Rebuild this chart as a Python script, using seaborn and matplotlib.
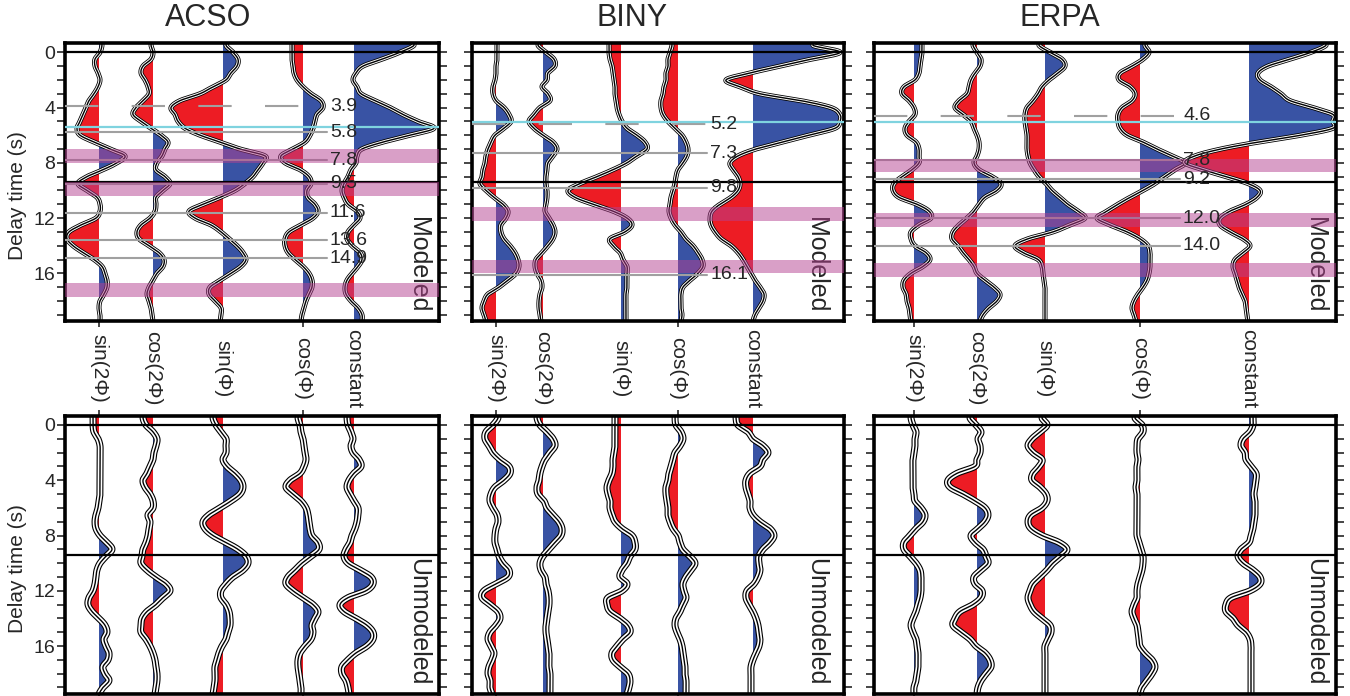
import numpy as np
import matplotlib
matplotlib.use("Agg")
import matplotlib.pyplot as plt
import matplotlib.patheffects as pe
import seaborn as sns

# sample times of the traces (s)
TIMES = np.arange(-0.5, 19.75, 0.5)

STATIONS = ["ACSO", "BINY", "ERPA"]
COMPONENTS = ["sin(2\u03a6)", "cos(2\u03a6)", "sin(\u03a6)", "cos(\u03a6)", "constant"]

# trace amplitudes (plot px), modeled row
acso_mod_s2 = [3, 1, -4, -4, -1, 1, -1, -5, -10, -13, -16, -19, -22, -19, -5, 11, 26, 18, 4, -12, -21, -12, -2, 1, 1, -3, -18, -30, -32, -26, -16, -5, 3, 6, 8, 8, 5, 1, 0, 1, 1]
acso_mod_c2 = [-2, 0, -2, -10, -12, -8, -5, -4, -10, -17, -20, -12, -2, 8, 15, 12, 9, 4, 3, 12, 17, 10, 3, 3, 2, -3, -12, -16, -14, -4, 6, 11, 10, 4, 0, -4, -6, -4, -2, -1, 0]
acso_mod_s1 = [3, 10, 15, 14, 8, 3, -10, -23, -43, -52, -48, -45, -38, -23, -3, 17, 42, 40, 35, 30, 22, 12, -3, -20, -34, -28, -12, -2, 6, 14, 20, 23, 18, 8, -3, -13, -14, -8, -2, -2, -3]
acso_mod_c1 = [-11, -11, -11, -10, -9, -6, 0, 8, 18, 20, 14, 12, 10, 7, 2, -10, -22, -18, -3, 6, 8, 4, 5, 12, 15, 10, -2, -14, -18, -18, -15, -8, 0, 6, 9, 9, 6, 3, 1, -1, -2]
acso_mod_k = [60, 46, 28, 9, 2, -1, 3, 7, 21, 36, 49, 64, 80, 56, 29, 8, 3, 2, -3, -6, -10, -12, -10, -6, 3, 6, 0, -6, -7, -2, 6, 8, 4, -2, -7, -9, -8, -3, 4, 8, 8]

biny_mod_s2 = [1, 1, 1, 0, 0, -1, -3, -3, 0, 8, 13, 15, 8, -1, -5, -8, -10, -11, -13, -14, -16, -10, -2, 7, 12, 10, 5, 5, 8, 14, 19, 22, 23, 20, 12, 3, -8, -12, -14, -12, -10]
biny_mod_c2 = [-5, 3, 11, 12, 5, 4, -1, 5, 7, -3, -9, -14, -9, 0, 10, 14, 10, 5, 4, 3, 3, 4, 4, 3, 2, 6, 10, 12, 10, 5, -1, -7, -8, -6, -2, -1, -3, -4, -4, -3, -2]
biny_mod_s1 = [-12, -12, -11, -9, -8, -7, -6, -6, -5, -4, -2, 1, 6, 16, 24, 26, 16, 6, -8, -24, -41, -53, -46, -28, -8, 6, 11, 4, -11, -8, -1, 2, 6, 6, 6, 6, 5, 5, 5, 5, 5]
biny_mod_c1 = [-6, -8, -10, -10, -12, -12, -14, -15, -17, -17, -15, -10, -3, 4, 8, 10, 9, 5, 0, -2, -3, -5, -7, -8, -9, -7, -3, 3, 8, 15, 20, 24, 25, 20, 12, 5, 3, 3, 3, 4, 3]
biny_mod_k = [60, 87, 58, 27, -3, -27, -13, 7, 48, 78, 87, 87, 82, 56, 29, 3, -15, -23, -20, -15, -13, -15, -22, -33, -41, -43, -42, -38, -32, -22, -15, -10, -6, -2, 2, 7, 11, 10, 6, 2, 0]

erpa_mod_s2 = [8, 8, 7, 6, 5, 1, -10, -12, -5, 0, 1, -5, -9, -7, 2, 5, 5, 5, -2, -12, -20, -21, -15, 3, 15, 17, 5, -3, -3, 1, 12, 16, 9, -3, -10, -11, -8, -7, -5, -4, -3]
erpa_mod_c2 = [-4, 0, 4, 3, -2, -6, -8, -10, -18, -22, -14, -6, -3, 0, 2, 2, 0, -3, 2, 15, 24, 20, 8, 2, -3, -10, -18, -24, -25, -19, -14, -8, -3, 0, 8, 17, 23, 20, 12, 6, 3]
erpa_mod_s1 = [-6, 5, 17, 20, 13, 4, -3, -7, -12, -18, -20, -20, -19, -18, -18, -18, -17, -15, -11, -6, 1, 7, 15, 23, 33, 40, 25, 8, -17, -30, -22, -7, -3, -2, -1, 0, 0, 0, 0, 0, 0]
erpa_mod_c1 = [5, 9, 3, -8, -20, -21, -10, -5, -8, -18, -22, -22, -20, -13, 3, 17, 32, 45, 35, 25, 15, 3, -10, -22, -33, -43, -30, -13, 0, 8, 10, 10, 10, 9, 7, 3, -2, -6, -8, -6, -4]
erpa_mod_k = [77, 62, 41, 19, 9, 11, 22, 32, 41, 64, 84, 84, 84, 52, 9, -28, -54, -64, -46, -23, -1, 11, 8, -3, -19, -29, -29, -19, -6, 1, -6, -14, -16, -14, -12, -10, -7, -4, -3, -2, -1]

# trace amplitudes (plot px), unmodeled row
acso_unm_s2 = [-6, -6, -5, -1, 1, 1, 1, 1, 1, 1, 1, 1, 0, -1, -3, -4, -3, 1, 8, 13, 7, 1, -2, -3, -4, -6, -10, -11, -7, 0, 6, 8, 5, 7, 10, 9, 4, 6, 10, 4, 0]
acso_unm_c2 = [-10, -7, 0, 4, 3, 1, 0, -3, -6, -10, -8, -3, 0, 0, -5, -3, -4, -5, -7, -10, -11, -12, -6, 3, 13, 17, 10, 3, -6, -11, -12, -12, -7, -3, 0, 2, 3, 4, 4, 3, 2]
acso_unm_s1 = [-10, -7, -2, 3, 3, 3, 0, 4, 12, 18, 20, 17, 8, -3, -14, -20, -18, -10, 3, 15, 23, 25, 20, 10, 3, -2, -2, 3, 6, 7, 7, 5, 3, -1, -4, -6, -8, -8, -8, -9, -10]
acso_unm_c1 = [-5, -3, -2, 0, 1, 2, 3, 1, -3, -13, -17, -10, -2, 3, 5, 6, 7, 9, 15, 16, 8, -1, -8, -15, -17, -10, 0, 10, 15, 12, 9, 10, 8, 2, -3, -5, -5, -4, -3, -2, -2]
acso_unm_k = [-7, -6, -3, -1, -3, -1, 5, 7, 0, -5, -7, -4, 0, 4, 4, 3, 1, -2, -4, -8, -10, -6, 6, 17, 19, 12, -6, -14, -10, 2, 13, 19, 19, 13, 2, -6, -12, -12, -8, -6, -5]

biny_unm_s2 = [2, -3, -10, -11, -7, -3, 4, 13, 14, 8, -1, -5, -6, -3, 1, 2, 0, -1, -1, 1, 3, 7, 13, 12, 0, -12, -14, -6, 2, 4, 0, -6, -8, -5, -2, -4, -7, -8, -6, -6, -4]
biny_unm_c2 = [-6, -3, 4, 10, 12, 7, 2, -1, -3, -4, -6, -5, 1, 4, 10, 16, 19, 18, 12, 6, 0, -3, -2, 2, 3, 5, 6, 6, 5, 4, 3, 3, 4, 5, 6, 6, 6, 7, 7, 7, 7]
biny_unm_s1 = [-6, -6, -6, -6, -6, -7, -8, -8, -9, -12, -14, -13, -11, -11, -9, -6, 1, 11, 14, 14, 9, 6, 1, -1, 6, 1, -13, -14, -11, -1, 7, 9, 2, -4, -9, -8, -1, 7, 9, 8, 6]
biny_unm_c1 = [-3, -2, 3, 5, 2, -3, -5, -7, -9, -10, -12, -12, -11, -10, -10, -8, -5, 0, 2, 5, 12, 17, 13, 8, 5, 6, 8, 5, 2, -2, -3, -1, 2, 4, 5, 6, 7, 7, 8, 8, 8]
biny_unm_k = [-17, -15, -5, 0, 10, 15, 10, 7, -3, -7, -7, -5, -3, -3, 0, 7, 17, 21, 17, 10, 6, 6, 7, 5, 1, -6, -7, -4, 0, 3, 5, 6, 7, 6, 3, 0, -2, -2, -2, -2, -2]

erpa_unm_s2 = [-3, -1, 2, 1, 1, 0, -1, -1, -1, -1, -1, 0, 1, 7, 11, 9, 2, -4, -10, -10, -4, 2, 6, 7, 7, 7, 6, 4, 2, -1, -3, -1, 2, 3, 4, 4, 4, 3, 2, 0, 0]
erpa_unm_c2 = [-7, -1, 4, 1, 3, 3, 0, -2, -20, -29, -27, -14, -2, 8, 11, 8, 1, -6, -2, 6, 9, 11, 4, -3, -2, 5, 4, -4, -17, -22, -24, -16, -7, -1, 8, 13, 14, 9, 4, 1, 0]
erpa_unm_s1 = [-3, 2, -5, -13, -17, -12, -3, -6, -12, -13, -5, 1, 2, -3, -14, -17, -14, -3, 14, 22, 16, 8, 2, -5, -12, -15, -17, -15, -11, -3, 5, 6, 3, 0, 0, 0, 0, 0, 0, 0, 0]
erpa_unm_c1 = [-5, 2, 3, -2, -3, -3, -2, -3, -3, -3, -4, -3, -3, -3, -3, -3, -3, -3, -1, 1, 3, 3, 2, 0, -2, -3, -3, -6, -8, -6, -3, -2, -1, 0, 5, 12, 15, 12, 7, 2, 0]
erpa_unm_k = [4, 4, 1, -6, -8, -4, -3, 2, 7, 7, 6, 5, 6, 6, 6, 5, 4, 2, 0, -8, -11, -6, 4, 11, 11, 1, -18, -23, -23, -16, -11, -3, 1, 2, 2, 2, 2, 2, 2, 2, 2]

# picked delay times (s); first one is drawn dashed
acso_picks = [3.9, 5.8, 7.8, 9.5, 11.6, 13.6, 14.9]
biny_picks = [5.2, 7.3, 9.8, 16.1]
erpa_picks = [4.6, 7.8, 9.2, 12.0, 14.0]
# predicted phases (centres of the shaded bands, s)
acso_bands = [7.5, 9.9, 17.2]
biny_bands = [11.7, 15.5]
erpa_bands = [8.2, 12.15, 15.75]
# cyan reference line and the black cut line (s)
cyan_times = [5.4, 5.05, 5.05]
cut_time = 9.4

TRACES = {
    ("ACSO", 0): [acso_mod_s2, acso_mod_c2, acso_mod_s1, acso_mod_c1, acso_mod_k],
    ("BINY", 0): [biny_mod_s2, biny_mod_c2, biny_mod_s1, biny_mod_c1, biny_mod_k],
    ("ERPA", 0): [erpa_mod_s2, erpa_mod_c2, erpa_mod_s1, erpa_mod_c1, erpa_mod_k],
    ("ACSO", 1): [acso_unm_s2, acso_unm_c2, acso_unm_s1, acso_unm_c1, acso_unm_k],
    ("BINY", 1): [biny_unm_s2, biny_unm_c2, biny_unm_s1, biny_unm_c1, biny_unm_k],
    ("ERPA", 1): [erpa_unm_s2, erpa_unm_c2, erpa_unm_s1, erpa_unm_c1, erpa_unm_k],
}
PICKS = [acso_picks, biny_picks, erpa_picks]
BANDS = [acso_bands, biny_bands, erpa_bands]

# layout in pixels
W, H = 1350, 696
PANEL_LEFT = [65, 472, 874]
PANEL_WIDTH = [374, 372, 462]
TRACE_X = [[34, 88, 158, 238, 289], [24, 71, 149, 206, 281], [40, 103, 171, 266, 375]]
PICK_END = [262, 235, 306]
LABEL_GAP = [21, 28, 21]
TITLE_X = [208, 632, 1060]
ROW_TOP = [43.3, 416]
ROW_H = 277.7

RED = "#ed1c24"
BLUE = "#3953a4"
BAND = "#b54191"
CYAN = "#7fd3df"
GRAY = "#a0a0a0"


def smooth(ts, vs, tt):
    """Catmull-Rom curve through the samples"""
    ts = np.asarray(ts, float)
    vs = np.asarray(vs, float)
    tt = np.clip(tt, ts[0], ts[-1])
    h = ts[1] - ts[0]
    i = np.clip(((tt - ts[0]) // h).astype(int), 0, len(ts) - 2)
    u = (tt - ts[i]) / h
    p = np.concatenate([[vs[0]], vs, [vs[-1]]])
    p0, p1, p2, p3 = p[i], p[i + 1], p[i + 2], p[i + 3]
    return 0.5 * (2 * p1 + (-p0 + p2) * u + (2 * p0 - 5 * p1 + 4 * p2 - p3) * u ** 2
                  + (-p0 + 3 * p1 - 3 * p2 + p3) * u ** 3)


def draw_trace(ax, base, vals, row):
    tt = np.linspace(-0.8, 19.6, 1500)
    vv = smooth(TIMES, vals, tt)
    xx = base + vv
    ax.fill_betweenx(tt, base, xx, where=vv > 0, interpolate=True, color=BLUE, lw=0, zorder=1)
    ax.fill_betweenx(tt, base, xx, where=vv < 0, interpolate=True, color=RED, lw=0, zorder=1)
    outer, inner = (3.6, 2.4) if row == 0 else (5.0, 3.4)
    halo = [pe.Stroke(linewidth=outer, foreground="black"),
            pe.Stroke(linewidth=inner, foreground="white"),
            pe.Normal()]
    sns.lineplot(x=xx, y=tt, sort=False, estimator=None, orient="y", color="black",
                 lw=1.0, path_effects=halo, ax=ax, zorder=2)


sns.set_style("ticks")
plt.rcParams["font.family"] = ["Liberation Sans", "DejaVu Sans"]

fig = plt.figure(figsize=(W / 100, H / 100), dpi=100)

for col, st in enumerate(STATIONS):
    for row in range(2):
        rect = [PANEL_LEFT[col] / W, 1 - (ROW_TOP[row] + ROW_H) / H,
                PANEL_WIDTH[col] / W, ROW_H / H]
        ax = fig.add_axes(rect)
        for base, vals in zip(TRACE_X[col], TRACES[(st, row)]):
            draw_trace(ax, base, vals, row)

        ax.axhline(0, color="black", lw=1.6, zorder=3)
        ax.axhline(cut_time, color="black", lw=1.6, zorder=3)

        if row == 0:
            for k, t in enumerate(PICKS[col]):
                if k == 0:
                    ax.plot([0, PICK_END[col]], [t, t], color=GRAY, lw=1.5,
                            dashes=(16, 16), dash_capstyle="butt", zorder=3)
                else:
                    ax.plot([0, PICK_END[col]], [t, t], color=GRAY, lw=1.5, zorder=3)
                ax.text(PICK_END[col] + 3, t, f"{t:.1f}", fontsize=14, ha="left",
                        va="center", zorder=6)
            ax.axhline(cyan_times[col], color=CYAN, lw=1.6, zorder=3)
            for c in BANDS[col]:
                ax.axhspan(c - 0.5, c + 0.5, color=BAND, alpha=0.5, lw=0, zorder=5)
            # component names below the panel
            for base, name in zip(TRACE_X[col], COMPONENTS):
                ax.text(base, -0.17, name, transform=ax.get_xaxis_transform(),
                        rotation=270, ha="center", va="center", fontsize=15)

        side = "Modeled" if row == 0 else "Unmodeled"
        ax.text(PANEL_WIDTH[col] - LABEL_GAP[col], 18.85, side, rotation=270,
                ha="center", va="bottom", fontsize=18, zorder=4)

        ax.set_xlim(0, PANEL_WIDTH[col])
        ax.set_ylim(19.45, -0.65)
        ax.set_xlabel("")
        ax.set_ylabel("")
        ax.set_yticks(np.arange(0, 20, 1), minor=True)
        ax.set_yticks([0, 4, 8, 12, 16])
        if col == 0:
            ax.set_yticklabels(["0", "4", "8", "12", "16"])
        else:
            ax.set_yticklabels([])
        ax.tick_params(axis="y", which="both", direction="out", length=6, width=1.2,
                       left=True, right=True, labelsize=14, pad=1)
        ax.set_xticks([TRACE_X[col][0], TRACE_X[col][3]])
        ax.set_xticklabels([])
        ax.tick_params(axis="x", direction="out", length=4, width=1.2,
                       bottom=True, top=(row == 1))
        for sp in ax.spines.values():
            sp.set_visible(True)
            sp.set_linewidth(2.6)
            sp.set_color("black")

    fig.text(TITLE_X[col] / W, 1 - 18 / H, st, ha="center", va="center", fontsize=22)

fig.text(18 / W, 1 - 196 / H, "Delay time (s)", rotation=90, ha="center", va="center", fontsize=15)
fig.text(18 / W, 1 - 569 / H, "Delay time (s)", rotation=90, ha="center", va="center", fontsize=15)

fig.savefig("out.png", dpi=100)
